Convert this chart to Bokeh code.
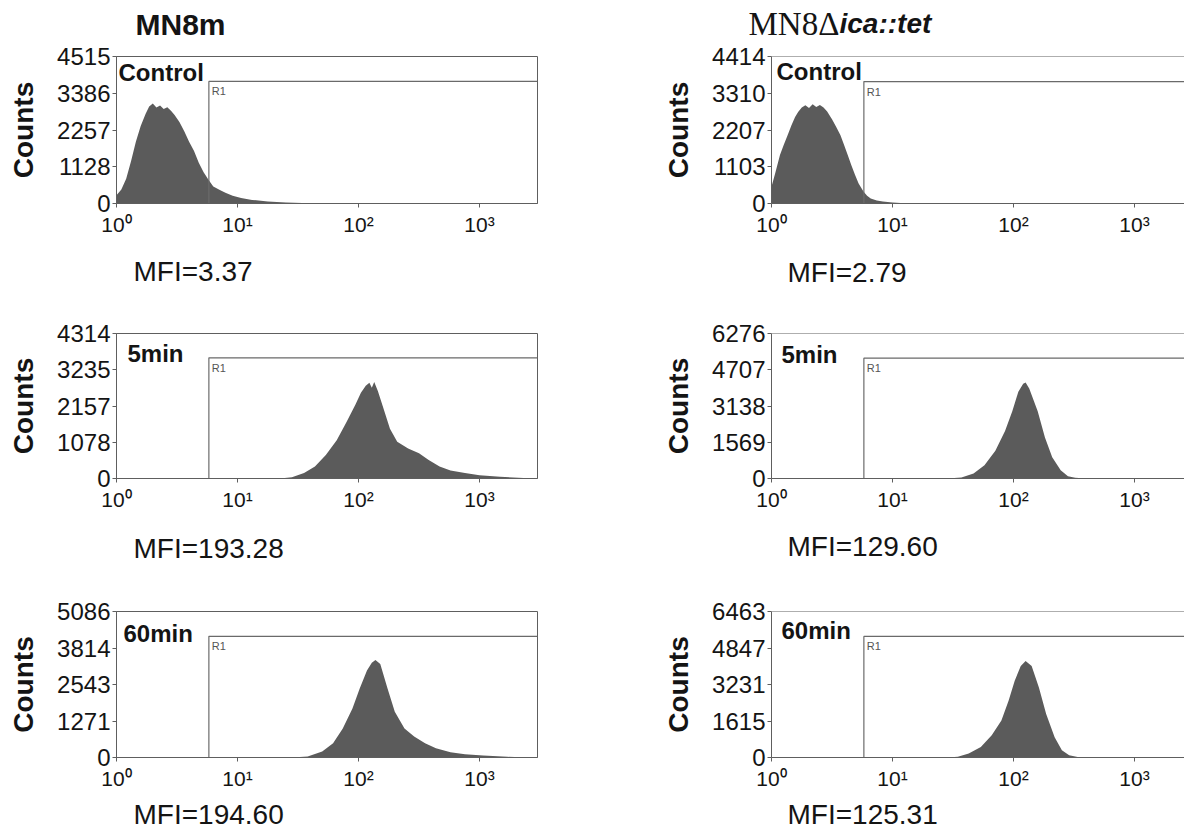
from bokeh.plotting import figure
from bokeh.layouts import column, row
from bokeh.models import FixedTicker, Label, Span, Range1d, BasicTickFormatter
from bokeh.core.properties import value
from bokeh.embed import file_html
from bokeh.resources import INLINE

# ---------------- data ----------------
strain_left = "MN8m"
strain_right_a = "MN8Δ"
strain_right_b = "ica::tet"
conditions = ["Control", "5min", "60min"]

x_ticks = [1, 10, 100, 1000]
x_tick_labels = ["10⁰", "10¹", "10²", "10³"]

yticks_left = [[0, 1128, 2257, 3386, 4515],
               [0, 1078, 2157, 3235, 4314],
               [0, 1271, 2543, 3814, 5086]]
yticks_right = [[0, 1103, 2207, 3310, 4414],
                [0, 1569, 3138, 4707, 6276],
                [0, 1615, 3231, 4847, 6463]]

mfi_left = ["MFI=3.37", "MFI=193.28", "MFI=194.60"]
mfi_right = ["MFI=2.79", "MFI=129.60", "MFI=125.31"]

gate_x = 5.8
gate_y_left = [3750, 3590, 4220]
gate_y_right = [3660, 5210, 5360]

# histograms: log10(fluorescence) positions and counts
ctrl_m_logx = [0.00, 0.04, 0.08, 0.12, 0.16, 0.20, 0.24, 0.27, 0.30, 0.33, 0.36, 0.39, 0.42,
               0.45, 0.48, 0.52, 0.56, 0.60, 0.64, 0.68, 0.72, 0.76, 0.80, 0.85, 0.90, 0.96,
               1.03, 1.12, 1.25, 1.40, 1.60, 1.80]
ctrl_m_counts = [250, 430, 760, 1300, 1900, 2380, 2750, 2980, 3070, 2950, 3010, 2900, 2960,
                 2850, 2720, 2500, 2220, 1900, 1620, 1250, 960, 730, 520, 420, 330, 240,
                 170, 110, 60, 30, 10, 0]

ctrl_d_logx = [0.00, 0.03, 0.07, 0.10, 0.133, 0.165, 0.195, 0.22, 0.25, 0.28, 0.31, 0.34, 0.37,
               0.40, 0.43, 0.46, 0.50, 0.535, 0.57, 0.60, 0.63, 0.66, 0.69, 0.72, 0.76, 0.79,
               0.82, 0.87, 0.92, 1.00, 1.10, 1.25]
ctrl_d_counts = [500, 900, 1460, 1750, 2050, 2350, 2600, 2750, 2880, 2950, 2870, 2980, 2900,
                 2960, 2880, 2760, 2530, 2300, 2050, 1760, 1460, 1150, 860, 600, 360, 230,
                 150, 90, 60, 30, 10, 0]

m5_m_logx = [1.35, 1.45, 1.55, 1.64, 1.73, 1.82, 1.90, 1.975, 2.02, 2.06, 2.09, 2.11, 2.13,
             2.16, 2.20, 2.26, 2.32, 2.41, 2.50, 2.58, 2.67, 2.76, 2.88, 3.00, 3.17, 3.32, 3.45]
m5_m_counts = [0, 40, 165, 360, 700, 1140, 1670, 2200, 2550, 2760, 2850, 2700, 2870,
               2600, 2160, 1480, 1090, 890, 750, 550, 360, 240, 165, 100, 50, 20, 0]

m60_m_logx = [1.45, 1.58, 1.70, 1.79, 1.87, 1.95, 2.01, 2.07, 2.11, 2.14, 2.18, 2.24, 2.30,
              2.38, 2.46, 2.55, 2.64, 2.76, 2.88, 3.03, 3.23, 3.40]
m60_m_counts = [0, 35, 210, 500, 1010, 1710, 2400, 3030, 3300, 3400, 3260, 2400, 1590,
                1010, 730, 500, 320, 185, 115, 70, 25, 0]

m5_d_logx = [1.45, 1.57, 1.67, 1.76, 1.85, 1.93, 1.99, 2.04, 2.08, 2.10, 2.13, 2.20, 2.26,
             2.32, 2.39, 2.45, 2.51, 2.60]
m5_d_counts = [0, 43, 213, 570, 1200, 2060, 2910, 3760, 4100, 4160, 3900, 2910, 1780,
               920, 355, 100, 28, 0]

m60_d_logx = [1.45, 1.54, 1.63, 1.73, 1.82, 1.90, 1.96, 2.01, 2.06, 2.10, 2.15, 2.21, 2.27,
              2.34, 2.40, 2.46, 2.54, 2.62]
m60_d_counts = [0, 30, 175, 470, 980, 1640, 2520, 3400, 4050, 4270, 4050, 3100, 1930,
                900, 320, 100, 15, 0]

hist_left = [(ctrl_m_logx, ctrl_m_counts), (m5_m_logx, m5_m_counts), (m60_m_logx, m60_m_counts)]
hist_right = [(ctrl_d_logx, ctrl_d_counts), (m5_d_logx, m5_d_counts), (m60_d_logx, m60_d_counts)]

# ---------------- layout / style ----------------
FONT = "Liberation Sans"
DEC = 121.0      # px per decade
FH = 148         # frame height
FILL = "#5b5b5b"
LINE = "#5e5e5e"
TXT = "#141414"
TOTAL_W = 1184

left_geom = dict(W=560, L=116, R=23)
right_geom = dict(W=624, L=211, R=0)
# per panel row: (top border left, top border right, bottom border left, bottom border right)
panel_rows = [(16, 15, 40, 41), (43, 40, 40, 43), (46, 44, 40, 42)]
cond_off_left = [(2, 132), (11, 128), (7, 126)]
cond_off_right = [(5, 133), (10, 127), (10, 129)]

header_h = 40
mfi_strip_h = [46, 44, 30]
mfi_strip_y = [(27, 28), (27, 25), (15, 15)]
mfi_x = (133, 787)


def make_panel(i, side):
    g = left_geom if side == "left" else right_geom
    tl, tr, bl, br = panel_rows[i]
    T = tl if side == "left" else tr
    B = bl if side == "left" else br
    H = T + FH + B
    fw = g["W"] - g["L"] - g["R"]
    span = fw / DEC
    yt = (yticks_left if side == "left" else yticks_right)[i]
    ymax = yt[-1]
    logx, counts = (hist_left if side == "left" else hist_right)[i]
    gy = (gate_y_left if side == "left" else gate_y_right)[i]
    xmax = 10 ** span

    p = figure(width=g["W"], height=H, x_axis_type="log",
               x_range=Range1d(1, xmax), y_range=Range1d(0, ymax),
               output_backend="svg", toolbar_location=None,
               min_border_left=g["L"], min_border_right=g["R"],
               min_border_top=T, min_border_bottom=B)
    p.grid.visible = False
    p.background_fill_color = "white"
    p.border_fill_color = "white"
    if side == "left":
        p.outline_line_color = LINE
        p.outline_line_width = 1
    else:
        p.outline_line_color = None
        p.add_layout(Span(location=ymax, dimension="width", line_color=LINE, line_width=1))

    def xd(off):
        return 10 ** (off / DEC)

    def yd(off):
        return off / FH * ymax

    # histogram
    p.varea(x=[10 ** v for v in logx], y1=0, y2=counts, fill_color=FILL)
    # R1 gate marker
    p.line(x=[gate_x, gate_x, xmax], y=[0, gy, gy], line_color="#6a6a6a", line_width=1.2)
    p.add_layout(Label(x=gate_x * xd(3), y=gy - yd(4), text="R1", text_font=FONT,
                       text_font_size="11px", text_color="#555555",
                       text_baseline="top", text_align="left"))

    # axes
    xa = p.xaxis[0]
    xa.ticker = FixedTicker(ticks=x_ticks)
    xa.major_label_overrides = dict(zip(x_ticks, x_tick_labels))
    xa.major_label_text_font = FONT
    xa.major_label_text_font_size = "21px"
    xa.major_label_text_color = TXT
    xa.major_label_standoff = 5
    xa.major_tick_out = 4
    xa.major_tick_in = 0
    xa.minor_tick_line_color = None
    xa.axis_line_color = LINE
    xa.major_tick_line_color = LINE

    ya = p.yaxis[0]
    ya.ticker = FixedTicker(ticks=yt)
    ya.formatter = BasicTickFormatter(use_scientific=False)
    ya.major_label_text_font = FONT
    ya.major_label_text_font_size = "24px"
    ya.major_label_text_color = TXT
    ya.major_label_standoff = 2
    ya.major_tick_out = 4
    ya.major_tick_in = 0
    ya.minor_tick_line_color = None
    ya.axis_line_color = LINE
    ya.major_tick_line_color = LINE
    ya.axis_label = "Counts"
    ya.axis_label_text_font = FONT
    ya.axis_label_text_font_size = "28px"
    ya.axis_label_text_font_style = "bold"
    ya.axis_label_text_color = TXT
    ya.axis_label_standoff = 15

    # condition label (inside the frame)
    co = (cond_off_left if side == "left" else cond_off_right)[i]
    p.add_layout(Label(x=xd(co[0]), y=yd(co[1]), text=conditions[i], text_font=FONT,
                       text_font_size="24px", text_font_style="bold", text_color=TXT,
                       text_baseline="middle", text_align="left"))
    return p


def make_strip(height):
    s = figure(width=TOTAL_W, height=height, x_range=Range1d(0, TOTAL_W),
               y_range=Range1d(height, 0), output_backend="svg", toolbar_location=None,
               min_border_left=0, min_border_right=0, min_border_top=0, min_border_bottom=0,
               x_axis_location=None, y_axis_location=None, outline_line_color=None)
    s.grid.visible = False
    s.background_fill_color = "white"
    s.border_fill_color = "white"
    return s


# header with strain names
header = make_strip(header_h)
header.text(x=[135], y=[24], text=[strain_left], text_font=value(FONT),
            text_font_size=value("30px"), text_font_style="bold", text_color=TXT,
            text_baseline="middle", text_align="left")
header.text(x=[748], y=[23], text=[strain_right_a], text_font=value("Liberation Serif"),
            text_font_size=value("33px"), text_color=TXT,
            text_baseline="middle", text_align="left")
header.text(x=[839], y=[23], text=[strain_right_b], text_font=value(FONT),
            text_font_size=value("28px"), text_font_style="bold italic", text_color=TXT,
            text_baseline="middle", text_align="left")

items = [header]
for i in range(3):
    items.append(row(make_panel(i, "left"), make_panel(i, "right")))
    strip = make_strip(mfi_strip_h[i])
    strip.text(x=list(mfi_x), y=list(mfi_strip_y[i]), text=[mfi_left[i], mfi_right[i]],
               text_font=value(FONT), text_font_size=value("28px"), text_color=TXT,
               text_baseline="middle", text_align="left")
    items.append(strip)

layout = column(*items)

open("out.html", "w").write(file_html(layout, INLINE))
